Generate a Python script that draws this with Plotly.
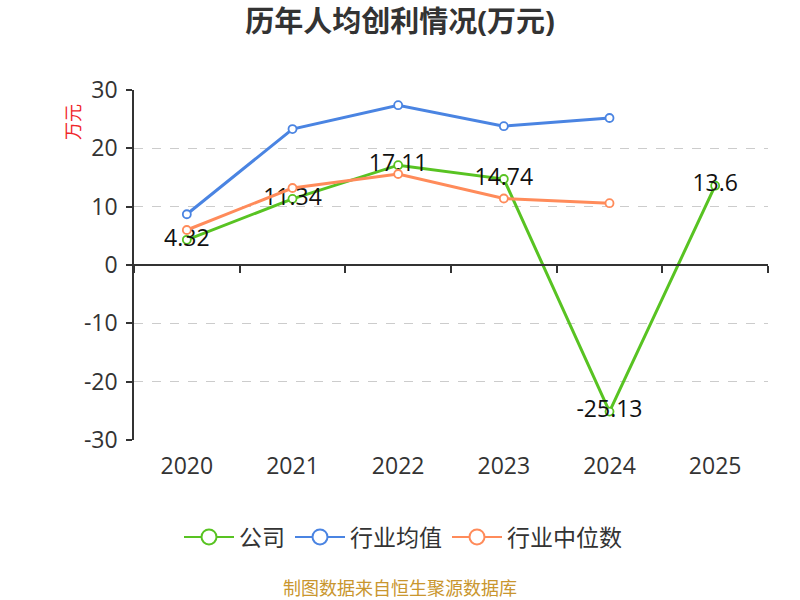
import plotly.graph_objects as go

years = ["2020", "2021", "2022", "2023", "2024", "2025"]
company = [4.32, 11.34, 17.11, 14.74, -25.13, 13.6]
industry_avg = [8.7, 23.3, 27.4, 23.8, 25.2, None]
industry_median = [6.0, 13.2, 15.6, 11.4, 10.6, None]
company_labels = ["4.32", "11.34", "17.11", "14.74", "-25.13", "13.6"]
series_names = ["公司", "行业均值", "行业中位数"]
y_ticks = [-30, -20, -10, 0, 10, 20, 30]
y_ticktext = ["-30", "-20", "-10", "0", "10", "20", "30"]

FONT = "Open Sans, Noto Sans CJK SC, sans-serif"
GREEN = "#58C322"
BLUE = "#4A84E2"
ORANGE = "#FF8B5A"

fig = go.Figure()

def add_series(name, vals, color, text=None):
    fig.add_trace(go.Scatter(
        x=years, y=vals, name=name, showlegend=False,
        mode="lines+markers+text" if text else "lines+markers",
        text=text, textposition="middle center",
        textfont=dict(size=23, color="#111", family=FONT),
        line=dict(color=color, width=3),
        marker=dict(symbol="circle", size=8, color="white",
                    line=dict(color=color, width=1.8)),
        cliponaxis=False,
    ))
    # legend entry with a larger open circle, as in the reference
    fig.add_trace(go.Scatter(
        x=[None], y=[None], name=name, mode="lines+markers",
        line=dict(color=color, width=2),
        marker=dict(symbol="circle", size=15, color="white",
                    line=dict(color=color, width=2)),
        hoverinfo="skip",
    ))

add_series(series_names[0], company, GREEN, company_labels)
add_series(series_names[1], industry_avg, BLUE)
add_series(series_names[2], industry_median, ORANGE)

# invisible trace to drive the mid-axis (line at y=0)
fig.add_trace(go.Scatter(x=years, y=[None] * len(years), xaxis="x2",
                         showlegend=False, hoverinfo="skip", mode="lines"))

fig.update_layout(
    width=800, height=600,
    margin=dict(l=134, r=32, t=90, b=160),
    paper_bgcolor="white", plot_bgcolor="white",
    font=dict(family=FONT, color="#333"),
    title=dict(text="<b>历年人均创利情况(万元)</b>", x=0.5, xanchor="center",
               y=1 - 22 / 600, yanchor="middle",
               font=dict(size=29, color="#333", family=FONT)),
    xaxis=dict(type="category", categoryarray=years, range=[-0.5, 5.5],
               showline=False, ticks="", showgrid=False, zeroline=False,
               tickfont=dict(size=23, color="#333"), ticklabelstandoff=10),
    xaxis2=dict(type="category", categoryarray=years, range=[-0.5, 5.5],
                overlaying="x", anchor="free", position=0.5,
                showline=True, linecolor="#333", linewidth=1.5,
                ticks="outside", ticklen=7, tickcolor="#333", tickwidth=1.5,
                tickson="boundaries", showticklabels=False, showgrid=False,
                zeroline=False),
    yaxis=dict(range=[-30, 30], tickvals=y_ticks, ticktext=y_ticktext,
               showline=True, linecolor="#333", linewidth=1.5,
               ticks="outside", ticklen=6, tickcolor="#333", tickwidth=1.5,
               ticklabelstandoff=4,
               showgrid=True, gridcolor="#cccccc", griddash="dash", gridwidth=1,
               zeroline=False, tickfont=dict(size=23, color="#333")),
    legend=dict(orientation="h", x=0.5 - 48 / 634, xanchor="center", y=-0.277,
                yanchor="middle", font=dict(size=23, color="#333"),
                itemwidth=50),
    showlegend=True,
)

fig.add_annotation(text="万元", xref="paper", yref="paper",
                   x=(73 - 134) / 634, y=(440 - 122) / 350,
                   xanchor="center", yanchor="middle",
                   textangle=-90, showarrow=False,
                   font=dict(size=18, color="#F0262A", family=FONT))
fig.add_annotation(text="制图数据来自恒生聚源数据库", xref="paper", yref="paper",
                   x=(400 - 134) / 634, y=(440 - 588) / 350,
                   xanchor="center", yanchor="middle", showarrow=False,
                   font=dict(size=18, color="#C9962E", family=FONT))

fig.write_html("out.html")
